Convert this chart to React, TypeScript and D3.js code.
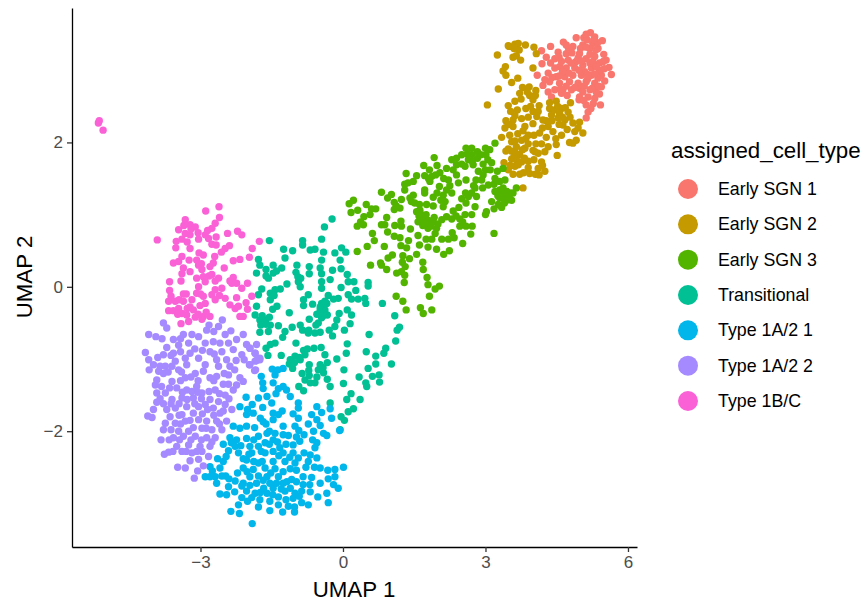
import * as d3 from "d3";
import React, { useEffect, useRef } from "react";

const cellTypes = ["Early SGN 1", "Early SGN 2", "Early SGN 3", "Transitional", "Type 1A/2 1", "Type 1A/2 2", "Type 1B/C"];
const cellColors = ["#F8766D", "#C49A00", "#53B400", "#00C094", "#00B6EB", "#A58AFF", "#FB61D7"];
const xTicks = [-3, 0, 3, 6];
const yTicks = [-2, 0, 2];

// UMAP coordinates, one list per cell type
const earlySgn1: number[][] = [
  [4.18,3.27],[4.37,3.33],[4.64,3.39],[4.91,3.45],[5.21,3.52],[5.07,3.45],[5.30,3.46],[5.46,3.41],[5.26,3.37],[5.05,3.35],
  [5.19,3.30],[5.37,3.30],[4.84,3.33],[4.98,3.23],[4.53,3.25],[4.70,3.23],[5.49,3.22],[5.54,3.14],[5.60,3.04],[5.65,2.94],
  [4.19,3.09],[4.37,3.10],[4.56,3.05],[4.46,3.16],[4.74,3.14],[4.91,3.12],[5.12,3.16],[5.30,3.19],[5.40,3.10],[5.05,3.07],
  [5.23,3.03],[4.88,3.03],[4.70,3.03],[4.09,2.93],[4.32,2.96],[4.49,2.91],[4.67,2.91],[4.84,2.93],[5.02,2.93],[5.23,2.93],
  [5.44,2.93],[5.51,2.85],[5.30,2.82],[5.12,2.84],[4.95,2.82],[4.77,2.84],[4.56,2.82],[4.35,2.84],[4.21,2.79],[4.32,2.70],
  [4.46,2.73],[4.63,2.73],[4.81,2.73],[4.98,2.75],[5.20,2.73],[5.44,2.77],[5.40,2.67],[5.30,2.61],[5.16,2.63],[4.98,2.63],
  [5.12,2.52],[5.42,2.52],[5.27,2.54],[5.16,2.42],[5.12,2.34],[4.39,2.63],[4.60,2.68],[5.33,2.70],[4.97,2.59],[5.37,2.89],
  [5.09,2.98],[4.46,3.03],[5.14,3.42],[5.36,3.38],[4.75,3.30],[4.95,3.17],[5.20,3.10],[4.60,3.12],[5.00,2.78],[4.70,2.78],
  [5.40,3.00],[5.15,2.88],[4.28,3.18],[4.55,3.18],[4.82,3.24],[4.80,3.10],[5.00,3.30],[5.20,3.22],[5.26,3.12],[5.48,3.12],
  [4.62,2.98],[4.76,2.96],[4.97,3.00],[5.15,2.94],[5.33,3.05],[4.40,2.90],[4.25,2.87],[4.58,2.74],[4.88,2.76],[5.08,2.78],
  [5.25,2.75],[5.38,2.78],[4.72,2.65],[5.07,2.58],[5.22,2.47],[4.70,3.35],[5.12,3.32],[5.32,3.28],[5.02,3.13],[4.55,2.92],
  [5.30,2.95],[5.50,3.02],[5.05,2.70],[5.12,3.50],[5.28,3.42],
];
const earlySgn2: number[][] = [
  [3.62,3.36],[3.69,3.37],[3.84,3.35],[4.02,3.32],[4.07,3.23],[3.71,3.28],[3.25,3.21],[3.58,3.18],[3.65,3.20],[3.74,3.14],
  [4.00,3.03],[3.37,2.99],[3.43,2.93],[3.68,2.89],[3.55,2.83],[3.27,2.74],[3.04,2.52],[3.78,2.76],[3.92,2.77],[3.72,2.68],
  [4.06,2.72],[3.93,2.65],[4.00,2.59],[3.62,2.57],[3.48,2.51],[3.53,2.43],[3.67,2.45],[3.85,2.47],[4.00,2.43],[4.13,2.51],
  [4.11,2.43],[4.35,2.47],[4.49,2.57],[4.79,2.55],[4.60,2.47],[4.74,2.42],[4.53,2.34],[4.67,2.31],[4.21,2.31],[3.76,2.33],
  [3.58,2.31],[3.43,2.30],[3.41,2.20],[3.58,2.22],[3.83,2.22],[4.00,2.26],[3.79,2.16],[4.32,2.22],[4.42,2.15],[4.63,2.24],
  [4.84,2.27],[4.98,2.28],[4.95,2.20],[5.05,2.13],[4.60,2.10],[4.14,2.13],[4.28,2.07],[3.34,2.07],[3.51,2.10],[3.55,2.01],
  [3.76,2.03],[3.90,2.10],[4.91,2.03],[4.77,2.00],[4.84,1.99],[4.49,1.97],[4.32,1.94],[3.48,1.91],[3.65,1.94],[3.83,1.92],
  [3.43,1.88],[3.72,1.83],[4.00,1.89],[4.11,1.85],[4.25,1.87],[4.51,1.82],[3.55,1.77],[3.39,1.72],[3.65,1.76],[3.90,1.74],
  [4.18,1.73],[3.62,1.67],[3.48,1.62],[3.72,1.56],[3.58,1.56],[3.93,1.57],[4.13,1.55],[4.25,1.60],[4.11,1.64],[3.79,1.37],
  [4.39,2.38],[4.56,2.40],[4.04,1.87],[3.69,1.69],[3.76,1.73],[3.64,1.85],[3.50,3.33],[3.60,3.30],[3.88,2.70],[4.05,2.65],
  [3.75,2.60],[3.95,2.50],[4.08,2.36],[3.90,2.35],[3.62,2.37],[4.45,2.45],[4.52,2.50],[4.68,2.48],[4.40,2.30],[4.55,2.25],
  [4.78,2.35],[4.88,2.15],[4.72,2.18],[3.68,2.12],[3.85,2.05],[4.02,2.10],[4.20,2.20],[4.28,2.30],[4.48,2.05],[3.62,2.02],
  [3.90,1.98],[4.06,1.98],[4.18,1.98],[3.55,1.88],[3.78,1.90],[3.60,1.80],[3.82,1.78],[4.02,1.76],[3.90,1.65],[3.52,1.68],
  [4.20,1.68],[4.05,1.56],[3.80,1.58],[3.48,2.25],[4.35,2.55],[4.62,2.35],[3.42,3.05],[3.48,3.34],
];
const earlySgn3: number[][] = [
  [0.22,1.20],[0.13,1.15],[0.17,1.03],[0.31,1.06],[0.49,1.14],[0.69,1.08],[0.60,1.08],[0.57,1.00],[0.44,0.97],[0.37,0.90],
  [0.30,0.84],[0.43,0.86],[0.81,1.31],[1.02,1.28],[0.94,1.23],[1.08,1.17],[1.23,1.21],[1.20,1.09],[1.08,1.07],[1.33,1.57],
  [1.55,1.54],[1.30,1.42],[1.37,1.44],[1.48,1.46],[1.30,1.34],[1.48,1.27],[1.41,1.23],[1.51,1.16],[1.61,1.14],[1.76,1.14],
  [1.72,1.34],[1.72,1.30],[1.70,1.68],[1.92,1.79],[1.98,1.68],[1.82,1.62],[1.72,1.54],[1.87,1.53],[1.83,1.46],[2.04,1.58],
  [2.18,1.64],[2.29,1.76],[2.39,1.78],[2.22,1.48],[2.03,1.39],[2.18,1.34],[2.29,1.30],[2.11,1.27],[1.90,1.24],[2.15,1.18],
  [2.11,1.11],[2.39,1.55],[2.43,1.44],[2.59,1.48],[2.50,1.83],[2.59,1.92],[2.71,1.92],[2.83,1.87],[2.71,1.83],[2.83,1.78],
  [2.64,1.76],[2.74,1.69],[2.57,1.67],[2.39,1.69],[2.85,1.60],[2.95,1.55],[2.92,1.48],[3.06,1.41],[2.94,1.37],[2.78,1.37],
  [2.71,1.30],[2.64,1.25],[2.81,1.25],[2.59,1.16],[2.44,1.10],[2.78,1.11],[3.00,1.92],[3.09,1.90],[3.01,1.83],[3.20,1.99],
  [3.13,1.72],[3.37,1.64],[3.20,1.50],[3.00,1.62],[3.30,1.46],[3.41,1.48],[3.20,1.32],[3.37,1.37],[3.51,1.30],[3.65,1.37],
  [3.13,1.18],[3.30,1.23],[3.41,1.25],[3.55,1.20],[3.27,1.14],[3.02,1.04],[3.00,1.00],[2.71,1.00],[2.57,1.00],[2.46,0.94],
  [2.29,0.94],[2.18,0.97],[2.08,0.93],[1.55,1.04],[1.65,1.00],[1.58,0.90],[1.72,0.95],[1.75,1.00],[1.83,0.88],[1.90,0.90],
  [1.79,0.81],[1.97,0.81],[1.94,0.74],[0.92,0.96],[0.81,0.86],[0.88,0.86],[1.09,0.85],[1.22,0.91],[1.23,0.84],[1.42,0.80],
  [0.94,0.76],[0.62,0.74],[0.66,0.64],[1.08,0.70],[1.20,0.68],[0.51,0.56],[0.30,0.49],[0.87,0.56],[1.22,0.57],[1.34,0.54],
  [1.38,0.64],[1.61,0.58],[1.58,0.71],[1.75,0.66],[1.87,0.66],[2.08,0.66],[2.22,0.66],[2.34,0.68],[2.30,0.75],[2.52,0.60],
  [2.69,0.73],[3.18,0.74],[2.46,0.84],[2.59,0.84],[2.72,0.84],[1.79,0.55],[1.97,0.52],[2.24,0.50],[2.12,0.45],[1.55,0.45],
  [1.04,0.44],[0.95,0.40],[0.58,0.30],[0.79,0.33],[0.81,0.30],[0.92,0.24],[1.26,0.43],[1.40,0.39],[1.25,0.34],[1.31,0.28],
  [1.23,0.21],[1.13,0.19],[1.30,0.16],[1.29,0.06],[1.68,0.34],[1.69,0.24],[1.77,0.13],[1.79,0.03],[2.03,0.01],[1.94,-0.03],
  [1.82,-0.13],[1.12,-0.13],[1.26,-0.20],[1.33,-0.32],[1.63,-0.29],[1.69,-0.37],[1.87,-0.32],[1.80,0.92],[1.68,0.85],[3.35,1.30],
  [3.45,1.20],[2.75,1.40],[2.62,1.84],[2.72,1.74],[2.90,1.83],[2.50,1.70],[3.05,1.76],[3.10,1.62],[3.25,1.60],[3.30,1.34],
  [3.45,1.32],[3.26,1.26],[3.40,1.16],[3.50,1.26],[3.58,1.30],[3.18,1.42],[2.80,1.48],[2.32,1.62],[2.25,1.40],[2.12,1.50],
  [1.95,1.55],[1.80,1.50],[1.62,1.06],[1.68,0.96],[1.76,0.90],[1.85,0.84],[1.70,0.88],[1.92,0.96],[2.00,0.87],[1.60,0.98],
  [2.32,1.05],[2.38,0.98],[2.52,0.90],[1.44,1.18],[1.12,1.12],[1.98,1.30],[2.06,1.20],[1.90,1.12],[2.58,1.30],[2.50,1.22],
  [3.34,1.10],[3.18,1.08],[2.95,1.70],
];
const transitional: number[][] = [
  [-0.23,0.94],[-0.39,0.83],[-0.45,0.66],[-0.85,0.64],[-0.85,0.58],[-1.55,0.64],[-1.25,0.52],[-1.06,0.50],[-1.22,0.40],[-0.69,0.51],
  [-0.59,0.52],[-0.41,0.48],[-0.03,0.54],[0.06,0.48],[-0.17,0.47],[-0.06,0.37],[-0.45,0.37],[-0.48,0.26],[-1.78,0.38],[-1.75,0.30],
  [-1.82,0.19],[-1.47,0.30],[-1.62,0.24],[-1.57,0.12],[-1.47,0.19],[-1.29,0.26],[-0.97,0.30],[-0.99,0.20],[-0.89,0.12],[-0.90,0.00],
  [-0.71,0.28],[-0.71,0.18],[-0.22,0.23],[-0.04,0.25],[0.09,0.17],[0.11,0.07],[0.23,0.07],[0.53,0.06],[0.53,0.01],[-0.27,0.10],
  [-0.45,0.07],[-0.45,-0.02],[-0.04,-0.01],[0.27,-0.05],[-1.18,0.04],[-1.71,-0.03],[-1.78,-0.11],[-1.32,-0.03],[-1.43,-0.04],[-1.53,-0.09],
  [-1.53,-0.18],[-1.39,-0.27],[-1.48,-0.31],[-1.13,-0.36],[-1.82,-0.27],[-1.85,-0.39],[-1.75,-0.46],[-1.62,-0.46],[-1.73,-0.53],[-1.53,-0.53],
  [-1.36,-0.54],[-1.57,-0.62],[-1.75,-0.63],[-1.22,-0.62],[-1.27,-0.70],[-1.07,-0.56],[-0.90,-0.53],[-0.85,-0.60],[-0.73,-0.11],[-0.83,-0.18],
  [-0.83,-0.26],[-0.64,-0.24],[-0.31,-0.12],[-0.10,-0.16],[-0.20,-0.17],[0.11,-0.11],[0.18,-0.17],[0.32,-0.17],[0.46,-0.16],[0.48,-0.23],
  [0.83,-0.23],[-0.45,-0.23],[-0.34,-0.23],[-0.48,-0.32],[-0.38,-0.32],[-0.33,-0.39],[-0.45,-0.43],[-0.52,-0.50],[-0.71,-0.45],[-0.08,-0.37],
  [0.09,-0.32],[0.18,-0.39],[-0.13,-0.46],[-0.17,-0.55],[0.15,-0.51],[0.03,-0.60],[-0.57,-0.53],[-0.48,-0.63],[-0.59,-0.64],[-0.73,-0.64],
  [-0.29,-0.60],[-0.22,-0.68],[0.55,-0.66],[1.09,-0.40],[1.19,-0.56],[1.14,-0.60],[1.11,-0.75],[0.09,-0.79],[0.07,-0.92],[-0.13,-1.00],
  [-0.38,-0.94],[-0.46,-0.84],[-0.61,-0.85],[-0.83,-0.88],[-0.80,-0.94],[-0.99,-0.78],[-1.43,-0.78],[-1.53,-0.80],[-1.62,-0.85],[-1.58,-0.95],
  [-1.30,-0.95],[-1.01,-0.96],[-1.11,-1.01],[-0.90,-1.01],[-1.13,-1.07],[-0.71,-1.08],[-1.06,-1.13],[-0.86,-1.20],[-0.71,-1.23],[-0.80,-1.29],
  [-0.93,-1.38],[-0.83,-1.44],[-0.69,-1.33],[-0.59,-1.33],[-0.33,-1.05],[-0.48,-1.08],[-0.52,-1.15],[-0.41,-1.19],[-0.33,-1.28],[-0.27,-1.38],
  [0.02,-1.15],[0.01,-1.34],[0.17,-1.48],[0.08,-1.56],[0.36,-1.56],[-0.27,-1.61],[0.22,-1.69],[0.11,-1.73],[-0.04,-1.80],[0.34,-1.25],
  [0.48,-1.33],[0.50,-1.38],[0.53,-1.13],[0.69,-0.96],[0.69,-1.07],[0.49,-0.90],[0.90,-0.85],[0.86,-0.92],[1.02,-1.07],[0.76,-1.22],
  [0.62,-1.24],[0.77,-1.32],[-0.06,-1.98],[0.03,-1.85],[-0.41,-0.27],[-0.94,0.07],[-0.48,-0.28],[-0.38,-0.20],[-0.55,-0.38],[-0.42,-0.40],
  [-1.62,0.15],[-1.40,0.22],[-0.95,0.14],[-0.45,0.18],[-1.45,-0.12],[-1.62,-0.52],[-1.55,-0.42],[-1.70,-0.40],[-0.72,-0.60],[-0.92,-0.98],
  [-0.75,-0.86],[-1.02,-1.05],[-0.42,-1.12],[-0.72,-1.16],[-0.55,-1.25],
];
const type1a21: number[][] = [
  [-1.49,-1.14],[-1.37,-1.15],[-1.26,-1.13],[-1.43,-1.22],[-1.72,-1.24],[-1.47,-1.33],[-1.69,-1.33],[-1.68,-1.41],[-1.36,-1.41],[-1.26,-1.38],
  [-1.19,-1.43],[-1.41,-1.48],[-1.11,-1.52],[-2.04,-1.53],[-1.78,-1.54],[-1.60,-1.52],[-1.50,-1.61],[-1.91,-1.63],[-1.69,-1.67],[-2.01,-1.70],
  [-2.03,-1.77],[-1.89,-1.75],[-2.17,-1.66],[-0.94,-1.61],[-0.94,-1.68],[-0.55,-1.66],[-0.27,-1.69],[-0.45,-1.74],[-0.66,-1.77],[-1.05,-1.76],
  [-1.47,-1.75],[-1.36,-1.77],[-1.47,-1.84],[-1.74,-1.82],[-1.68,-1.87],[-0.94,-1.82],[-0.73,-1.90],[-0.55,-1.84],[-0.24,-1.82],[-0.48,-1.92],
  [-1.26,-1.93],[-2.31,-1.93],[-2.17,-1.96],[-2.03,-1.93],[-1.01,-1.93],[-0.93,-1.99],[-0.07,-1.99],[-0.41,-2.03],[-0.34,-2.06],[-1.43,-2.03],
  [-1.60,-2.03],[-1.26,-2.05],[-1.78,-2.07],[-2.38,-2.09],[-2.24,-2.12],[-2.03,-2.10],[-1.47,-2.12],[-1.64,-2.16],[-0.91,-2.14],[-1.05,-2.19],
  [-0.55,-2.16],[-2.52,-2.18],[-2.27,-2.21],[-1.96,-2.21],[-1.78,-2.21],[-1.33,-2.23],[-1.47,-2.28],[-0.59,-2.23],[-2.41,-2.27],[-2.20,-2.30],
  [-1.92,-2.30],[-1.64,-2.30],[-1.05,-2.30],[-0.69,-2.33],[-1.26,-2.30],[-0.55,-2.37],[-0.94,-2.37],[-2.64,-2.38],[-2.52,-2.42],[-2.03,-2.40],
  [-1.78,-2.44],[-1.47,-2.42],[-1.22,-2.42],[-1.01,-2.44],[-0.73,-2.42],[-2.80,-2.49],[-2.59,-2.51],[-2.10,-2.51],[-1.89,-2.53],[-1.64,-2.51],
  [-1.43,-2.52],[-1.11,-2.52],[-0.48,-2.51],[-0.17,-2.53],[0.01,-2.50],[-2.90,-2.63],[-2.69,-2.63],[-2.47,-2.62],[-1.96,-2.63],[-1.60,-2.63],
  [-1.36,-2.63],[-0.84,-2.63],[-0.66,-2.64],[-0.17,-2.63],[-2.80,-2.63],[-2.66,-2.72],[-2.27,-2.69],[-2.10,-2.72],[-1.82,-2.72],[-1.54,-2.72],
  [-1.26,-2.72],[-1.08,-2.67],[-0.31,-2.66],[-0.48,-2.72],[-0.20,-2.74],[-0.84,-2.74],[-2.41,-2.77],[-2.13,-2.76],[-1.67,-2.79],[-1.47,-2.79],
  [-1.11,-2.79],[-0.10,-2.79],[-2.59,-2.87],[-2.45,-2.88],[-2.03,-2.83],[-1.85,-2.86],[-1.60,-2.86],[-1.22,-2.83],[-1.01,-2.86],[-0.69,-2.84],
  [-0.34,-2.86],[-0.87,-2.83],[-0.53,-2.91],[-1.36,-2.91],[-2.13,-2.92],[-1.75,-2.95],[-1.54,-2.97],[-1.05,-2.93],[-2.01,-2.97],[-2.20,-3.02],
  [-1.78,-3.05],[-0.31,-2.99],[-0.87,-2.99],[-0.73,-3.02],[-1.15,-3.04],[-1.02,-3.05],[-1.36,-3.02],[-1.54,-3.10],[-2.36,-3.11],[-2.18,-3.14],
  [-1.27,-3.12],[-1.02,-3.12],[-1.91,-3.28],[-1.55,-2.18],[-1.38,-2.15],[-1.20,-2.18],[-1.88,-2.12],[-1.72,-2.28],[-1.98,-2.32],[-2.15,-2.20],
  [-2.35,-2.16],[-2.10,-2.38],[-1.88,-2.42],[-1.70,-2.42],[-1.35,-2.34],[-1.12,-2.36],[-0.82,-2.30],[-0.64,-2.12],[-0.78,-2.50],[-0.98,-2.54],
  [-1.26,-2.56],[-1.52,-2.58],[-1.78,-2.62],[-2.02,-2.56],[-2.22,-2.58],[-2.55,-2.62],[-2.40,-2.66],[-1.96,-2.75],[-1.68,-2.68],[-1.40,-2.72],
  [-1.18,-2.70],[-0.98,-2.70],[-0.70,-2.74],[-1.74,-2.85],[-1.48,-2.88],[-1.30,-2.80],[-0.92,-2.90],[-2.28,-2.84],[-1.92,-2.92],[-1.20,-2.95],
  [-1.62,-1.90],[-1.28,-1.72],[-1.55,-2.00],[-1.15,-2.06],[-0.82,-2.05],[-0.62,-2.00],[-0.98,-2.08],[-1.86,-1.95],[-2.46,-2.35],[-2.75,-2.55],
  [-0.60,-2.50],[-0.32,-2.54],
];
const type1a22: number[][] = [
  [-3.78,-0.50],[-3.71,-0.57],[-4.09,-0.66],[-3.94,-0.69],[-3.81,-0.72],[-2.54,-0.46],[-2.62,-0.55],[-2.82,-0.53],[-2.87,-0.60],[-3.36,-0.66],
  [-3.18,-0.66],[-3.04,-0.69],[-2.36,-0.61],[-2.48,-0.66],[-2.90,-0.78],[-2.73,-0.76],[-3.57,-0.73],[-3.46,-0.81],[-3.25,-0.78],[-3.71,-0.84],
  [-2.59,-0.78],[-2.41,-0.78],[-2.24,-0.73],[-2.31,-0.87],[-2.03,-0.80],[-1.96,-0.85],[-1.85,-0.92],[-1.75,-0.99],[-1.82,-1.02],[-2.13,-0.94],
  [-2.08,-1.01],[-1.96,-1.08],[-1.84,-1.15],[-4.16,-0.91],[-3.78,-0.94],[-3.57,-0.92],[-4.09,-1.01],[-3.99,-1.08],[-4.08,-1.15],[-3.74,-1.10],
  [-3.53,-1.03],[-3.32,-0.99],[-3.22,-0.92],[-3.04,-0.99],[-2.90,-1.08],[-2.71,-0.93],[-2.66,-1.01],[-2.45,-1.01],[-2.62,-1.10],[-2.38,-1.10],
  [-2.41,-1.22],[-3.88,-1.17],[-3.78,-1.20],[-3.46,-1.15],[-3.29,-1.08],[-3.11,-1.20],[-2.94,-1.17],[-2.80,-1.26],[-2.66,-1.24],[-2.17,-1.26],
  [-2.10,-1.31],[-2.24,-1.36],[-2.52,-1.35],[-2.41,-1.35],[-3.92,-1.29],[-3.60,-1.31],[-3.32,-1.26],[-3.95,-1.36],[-3.92,-1.47],[-3.74,-1.47],
  [-3.50,-1.40],[-3.29,-1.43],[-3.08,-1.38],[-2.97,-1.47],[-2.69,-1.43],[-2.48,-1.50],[-2.31,-1.43],[-3.92,-1.60],[-3.60,-1.56],[-3.39,-1.54],
  [-3.15,-1.54],[-2.80,-1.56],[-2.62,-1.59],[-3.99,-1.70],[-4.11,-1.79],[-4.02,-1.81],[-3.71,-1.70],[-3.53,-1.68],[-3.29,-1.66],[-3.04,-1.66],
  [-2.90,-1.63],[-2.73,-1.68],[-2.48,-1.63],[-2.34,-1.70],[-3.64,-1.80],[-3.39,-1.77],[-3.15,-1.75],[-2.59,-1.75],[-3.74,-1.89],[-3.78,-1.98],
  [-3.53,-1.89],[-3.32,-1.86],[-3.04,-1.84],[-2.87,-1.86],[-2.66,-1.86],[-2.45,-1.86],[-3.46,-2.00],[-3.25,-2.00],[-2.97,-1.96],[-2.76,-1.98],
  [-2.55,-1.98],[-3.83,-2.12],[-3.57,-2.09],[-3.36,-2.07],[-3.11,-2.07],[-2.87,-2.09],[-2.69,-2.09],[-3.50,-2.21],[-3.25,-2.19],[-3.01,-2.21],
  [-2.80,-2.21],[-3.67,-2.29],[-3.76,-2.32],[-3.39,-2.28],[-3.18,-2.30],[-2.97,-2.28],[-2.83,-2.35],[-3.22,-2.41],[-3.04,-2.39],[-3.48,-2.50],
  [-3.32,-2.51],[-2.94,-2.48],[-3.06,-2.55],[-3.13,-2.65],[-1.82,-0.80],[-1.96,-0.85],[-1.85,-0.92],[-1.75,-1.01],[-1.85,-1.03],[-1.97,-1.08],
  [-1.86,-1.16],[-2.10,-0.66],[-3.68,-1.18],[-3.60,-1.10],[-3.40,-1.18],[-3.20,-1.25],[-3.42,-1.30],[-3.65,-1.40],[-3.82,-1.38],[-3.85,-1.55],
  [-3.78,-1.62],[-3.62,-1.62],[-3.45,-1.62],[-3.38,-1.46],[-3.18,-1.45],[-3.05,-1.30],[-2.98,-1.55],[-2.82,-1.45],[-2.85,-1.70],[-2.60,-1.48],
  [-2.72,-1.30],[-2.52,-1.72],[-2.40,-1.55],[-3.45,-1.78],[-3.22,-1.85],[-3.12,-1.62],[-2.96,-1.76],[-2.72,-1.78],[-3.62,-1.98],[-3.42,-1.90],
  [-3.15,-1.95],[-2.88,-1.96],[-2.60,-1.90],[-3.66,-2.12],[-3.44,-2.12],[-3.20,-2.12],[-2.98,-2.12],[-2.76,-2.15],[-3.58,-2.28],[-3.30,-2.28],
  [-3.08,-2.28],[-3.62,-0.95],[-3.42,-0.90],[-3.12,-0.86],[-2.96,-0.88],[-2.80,-0.90],[-2.55,-0.90],[-2.25,-1.02],[-2.28,-1.15],[-3.90,-0.98],
  [-3.42,-0.72],[-2.72,-0.62],[-2.50,-1.20],[-3.85,-1.10],[-3.28,-1.56],[-3.06,-1.46],
];
const type1bc: number[][] = [
  [-5.13,2.30],[-5.15,2.27],[-5.05,2.17],[-2.61,1.11],[-2.89,1.05],[-2.60,0.96],[-2.69,0.88],[-2.76,0.81],[-3.32,0.93],[-3.22,0.86],
  [-3.11,0.83],[-3.46,0.79],[-3.32,0.74],[-3.22,0.72],[-3.04,0.66],[-2.90,0.72],[-2.83,0.67],[-2.67,0.69],[-3.91,0.65],[-2.43,0.74],
  [-2.22,0.77],[-2.13,0.72],[-3.39,0.66],[-3.51,0.63],[-3.52,0.54],[-3.22,0.53],[-2.76,0.59],[-2.67,0.58],[-2.39,0.57],[-2.48,0.53],
  [-2.56,0.48],[-1.76,0.63],[-1.91,0.53],[-3.03,0.47],[-2.94,0.44],[-3.39,0.42],[-3.46,0.35],[-3.24,0.37],[-3.57,0.33],[-3.08,0.37],
  [-3.04,0.30],[-2.73,0.33],[-2.80,0.28],[-2.97,0.24],[-3.36,0.26],[-3.22,0.21],[-3.39,0.18],[-2.31,0.36],[-2.17,0.38],[-1.97,0.41],
  [-2.50,0.26],[-2.76,0.17],[-2.94,0.14],[-3.08,0.12],[-2.62,0.12],[-2.69,0.08],[-2.90,0.07],[-3.41,0.08],[-3.65,0.07],[-2.31,0.13],
  [-2.38,0.08],[-2.24,0.05],[-2.01,0.05],[-3.04,0.00],[-2.13,-0.02],[-2.55,-0.02],[-2.69,-0.04],[-3.65,-0.05],[-3.08,-0.09],[-2.76,-0.11],
  [-3.36,-0.10],[-2.94,-0.13],[-3.62,-0.13],[-2.48,-0.16],[-2.24,-0.15],[-1.92,-0.13],[-2.69,-0.18],[-3.67,-0.20],[-3.53,-0.20],[-3.36,-0.20],
  [-2.90,-0.23],[-2.04,-0.22],[-2.38,-0.25],[-3.22,-0.28],[-3.01,-0.26],[-3.46,-0.30],[-2.20,-0.27],[-3.67,-0.33],[-3.57,-0.33],[-2.01,-0.31],
  [-2.27,-0.30],[-3.15,-0.32],[-3.39,-0.37],[-3.29,-0.39],[-2.94,-0.41],[-3.11,-0.42],[-2.80,-0.41],[-2.17,-0.41],[-2.10,-0.41],[-3.25,-0.48],
  [-2.97,-0.45],[-3.41,-0.51],[-3.20,0.80],[-3.35,0.85],[-3.05,0.75],[-2.85,0.78],[-3.28,0.62],[-2.98,0.32],[-3.18,-0.18],[-3.45,-0.18],
  [-3.48,-0.38],[-3.30,-0.10],[-3.00,-0.10],[-2.82,0.15],[-2.34,0.05],[-2.60,-0.12],[-2.88,-0.35],[-3.05,-0.38],[-3.28,-0.30],[-2.70,0.42],
];
const cellPoints = [earlySgn1, earlySgn2, earlySgn3, transitional, type1a21, type1a22, type1bc];

const App = () => {
  const svgRef = useRef<SVGSVGElement>(null);

  useEffect(() => {
    const svg = d3.select(svgRef.current);
    svg.selectAll("*").remove();

    const margin = { top: 8, right: 227, bottom: 58, left: 72 };
    const width = 864;
    const height = 605;
    const font = "'Liberation Sans', Arial, sans-serif";

    const x = d3.scaleLinear().domain([-5.705, 6.19]).range([margin.left, width - margin.right]);
    const y = d3.scaleLinear().domain([-3.604, 3.862]).range([height - margin.bottom, margin.top]);

    // points
    cellPoints.forEach((points, i) => {
      svg.append("g")
        .selectAll("circle")
        .data(points)
        .join("circle")
        .attr("cx", (d) => x(d[0]))
        .attr("cy", (d) => y(d[1]))
        .attr("r", 3.7)
        .attr("fill", cellColors[i]);
    });

    // axes
    const xAxis = svg.append("g")
      .attr("transform", `translate(0,${height - margin.bottom})`)
      .call(d3.axisBottom(x).tickValues(xTicks).tickSizeInner(5).tickSizeOuter(0).tickPadding(4).tickFormat(d3.format("d")));
    const yAxis = svg.append("g")
      .attr("transform", `translate(${margin.left},0)`)
      .call(d3.axisLeft(y).tickValues(yTicks).tickSizeInner(5).tickSizeOuter(0).tickPadding(4).tickFormat(d3.format("d")));
    [xAxis, yAxis].forEach((axis) => {
      axis.select(".domain").attr("stroke", "#000").attr("stroke-width", 1.3);
      axis.selectAll(".tick line").attr("stroke", "#333").attr("stroke-width", 1.3);
      axis.selectAll(".tick text").attr("fill", "#4d4d4d").style("font", `17px ${font}`);
    });

    svg.append("text")
      .attr("x", 354).attr("y", 597)
      .attr("text-anchor", "middle")
      .style("font", `22.3px ${font}`)
      .text("UMAP 1");
    svg.append("text")
      .attr("transform", "translate(32,277) rotate(-90)")
      .attr("text-anchor", "middle")
      .style("font", `22.3px ${font}`)
      .text("UMAP 2");

    // legend
    svg.append("text")
      .attr("x", 671).attr("y", 158)
      .style("font", `22.3px ${font}`)
      .text("assigned_cell_type");
    const legendY = d3.scalePoint().domain(cellTypes).range([189, 401]);
    const legend = svg.append("g")
      .selectAll("g")
      .data(cellTypes)
      .join("g")
      .attr("transform", (d) => `translate(688,${legendY(d)})`);
    legend.append("circle")
      .attr("r", 10)
      .attr("fill", (_, i) => cellColors[i]);
    legend.append("text")
      .attr("x", 30).attr("y", 6)
      .style("font", `17.8px ${font}`)
      .text((d) => d);
  }, []);

  return (
    <svg ref={svgRef} width={864} height={605} style={{ position: "absolute", left: 0, top: 0, background: "#fff" }} />
  );
};

export default App;
